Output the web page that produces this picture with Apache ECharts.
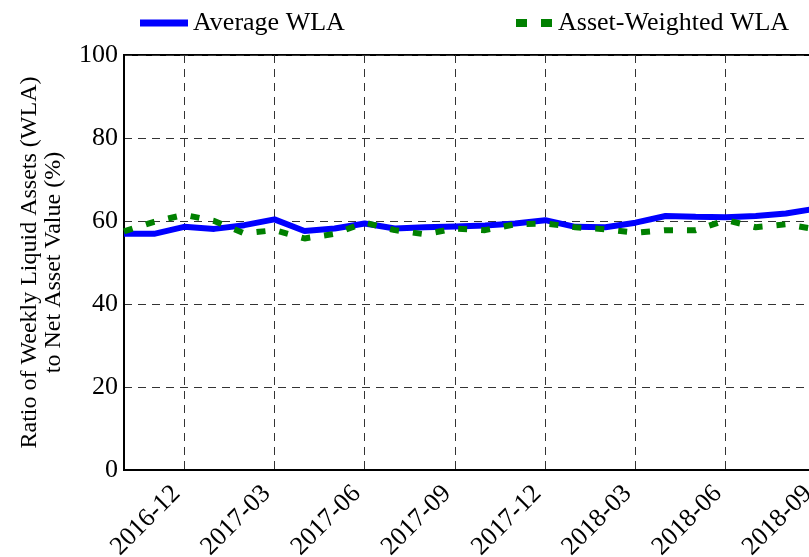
<!DOCTYPE html>
<html>
<head>
<meta charset="utf-8">
<script src="https://cdn.jsdelivr.net/npm/echarts@6/dist/echarts.min.js"></script>
<style>
  html, body { margin: 0; padding: 0; background: #fff; }
  #chart { width: 809px; height: 557px; }
</style>
</head>
<body>
<div id="chart"></div>
<script>
;(function () {

    'use strict';

    // monthly points, 2016-10 .. 2018-09
    var months = [
        '2016-10', '2016-11', '2016-12', '2017-01', '2017-02', '2017-03',
        '2017-04', '2017-05', '2017-06', '2017-07', '2017-08', '2017-09',
        '2017-10', '2017-11', '2017-12', '2018-01', '2018-02', '2018-03',
        '2018-04', '2018-05', '2018-06', '2018-07', '2018-08', '2018-09'
    ];
    var averageWla = [
        56.9, 56.9, 58.6, 58.1, 59.0, 60.4,
        57.6, 58.2, 59.4, 58.2, 58.5, 58.7,
        58.9, 59.4, 60.2, 58.6, 58.5, 59.6,
        61.2, 61.0, 60.9, 61.2, 61.8, 63.0
    ];
    var assetWeightedWla = [
        57.5, 59.8, 61.5, 60.0, 57.0, 57.8,
        55.8, 56.9, 59.6, 57.8, 56.8, 58.2,
        57.8, 59.2, 59.4, 58.5, 58.0, 57.2,
        57.8, 57.8, 60.2, 58.5, 59.2, 58.0
    ];
    var yTicks = [0, 20, 40, 60, 80, 100];

    var serif = '"Liberation Serif", "DejaVu Serif", serif';

    var everyThird = function (idx) {
        return idx % 3 === 2;
    };

    var drawChart = function () {
        var myChart = echarts.init(document.getElementById('chart'), null, { renderer: 'canvas' });

        var option = {
            animation: false,
            textStyle: { fontFamily: serif },
            legend: [
                {
                    left: 135, top: 5,
                    data: [{ name: 'Average WLA', icon: 'rect' }],
                    itemWidth: 48, itemHeight: 7, itemGap: 6,
                    textStyle: { fontFamily: serif, fontSize: 26, color: '#000' }
                },
                {
                    left: 511, top: 5,
                    data: [{ name: 'Asset-Weighted WLA', icon: 'path://M0,0h11v8h-11z M25,0h11v8h-11z' }],
                    itemWidth: 38, itemHeight: 8, itemGap: 8,
                    textStyle: { fontFamily: serif, fontSize: 26, color: '#000' }
                }
            ],
            grid: {
                left: 124, top: 55, width: 692, bottom: 87,
                show: true,
                borderColor: '#000', borderWidth: 2,
                containLabel: false,
                outerBoundsMode: 'none'
            },
            xAxis: {
                type: 'category',
                data: months,
                boundaryGap: false,
                axisLine: { lineStyle: { color: '#000', width: 2 } },
                axisTick: { show: false },
                axisLabel: {
                    interval: everyThird,
                    rotate: 45,
                    fontFamily: serif, fontSize: 26, color: '#000',
                    margin: 12,
                    padding: [0, 11, 0, 0]
                },
                splitLine: {
                    show: true,
                    interval: everyThird,
                    lineStyle: { color: '#333', width: 1, type: [8, 6] }
                }
            },
            yAxis: {
                type: 'value',
                min: yTicks[0], max: yTicks[yTicks.length - 1], interval: 20,
                name: 'Ratio of Weekly Liquid Assets (WLA)\nto Net Asset Value (%)',
                nameLocation: 'middle',
                nameRotate: 90,
                nameGap: 58,
                nameTextStyle: { fontFamily: serif, fontSize: 24, color: '#000', lineHeight: 24 },
                axisLine: { show: true, lineStyle: { color: '#000', width: 2 } },
                axisTick: { show: false },
                axisLabel: { fontFamily: serif, fontSize: 26, color: '#000', margin: 6 },
                splitLine: {
                    show: true,
                    lineStyle: { color: '#333', width: 1, type: [8, 6] }
                }
            },
            series: [
                {
                    name: 'Average WLA',
                    type: 'line',
                    data: averageWla,
                    symbol: 'none',
                    itemStyle: { color: '#0000ff' },
                    lineStyle: { color: '#0000ff', width: 6 },
                    z: 3
                },
                {
                    name: 'Asset-Weighted WLA',
                    type: 'line',
                    data: assetWeightedWla,
                    symbol: 'none',
                    itemStyle: { color: '#008000' },
                    lineStyle: { color: '#008000', width: 6, type: [9, 14] },
                    z: 4
                }
            ]
        };
        myChart.setOption(option);
    };

    drawChart();

}());
</script>
</body>
</html>
